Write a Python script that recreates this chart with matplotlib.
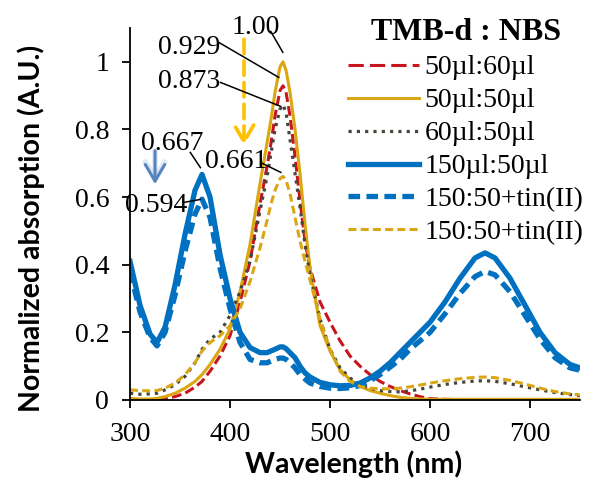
import matplotlib
matplotlib.use('Agg')
import matplotlib.pyplot as plt
from matplotlib.lines import Line2D
from matplotlib.patches import FancyArrowPatch

plt.rcParams['font.family'] = 'Liberation Serif'

# wavelength grid (nm)
wl = [300, 310, 320, 327, 335, 345, 355, 365, 372, 380,
      390, 400, 410, 420, 430, 437, 441, 445, 450, 453,
      456, 460, 465, 470, 475, 480, 490, 500, 510, 520,
      530, 540, 550, 560, 570, 580, 590, 600, 615, 630,
      645, 655, 665, 680, 695, 710, 725, 740, 750]

# normalized absorbance, one list per TMB-d : NBS ratio
r50_60 = [0.000, 0.000, 0.000, 0.002, 0.004, 0.010, 0.020, 0.038, 0.055, 0.085,
          0.13, 0.19, 0.29, 0.41, 0.58, 0.69, 0.76, 0.84, 0.915, 0.929,
          0.91, 0.84, 0.72, 0.59, 0.47, 0.39, 0.29, 0.23, 0.175, 0.13,
          0.10, 0.075, 0.055, 0.04, 0.028, 0.018, 0.01, 0.004, 0.002, 0.001,
          0.001, 0.001, 0.001, 0.001, 0.001, 0.001, 0.001, 0.001, 0.001]
r50_50 = [0.005, 0.003, 0.003, 0.005, 0.010, 0.020, 0.035, 0.055, 0.075, 0.105,
          0.15, 0.21, 0.32, 0.46, 0.64, 0.76, 0.83, 0.91, 0.985, 1.00,
          0.975, 0.91, 0.80, 0.67, 0.52, 0.39, 0.22, 0.145, 0.09, 0.06,
          0.04, 0.028, 0.02, 0.013, 0.008, 0.005, 0.003, 0.002, 0.002, 0.002,
          0.002, 0.002, 0.002, 0.002, 0.002, 0.002, 0.002, 0.002, 0.002]
r60_50 = [0.020, 0.017, 0.018, 0.020, 0.030, 0.045, 0.070, 0.110, 0.150, 0.180,
          0.200, 0.250, 0.320, 0.410, 0.560, 0.660, 0.730, 0.800, 0.860, 0.873,
          0.850, 0.770, 0.670, 0.570, 0.460, 0.370, 0.240, 0.150, 0.095, 0.065,
          0.045, 0.035, 0.028, 0.025, 0.024, 0.027, 0.032, 0.038, 0.046, 0.052,
          0.056, 0.057, 0.055, 0.048, 0.039, 0.030, 0.022, 0.016, 0.013]
r150_50 = [0.41, 0.28, 0.195, 0.17, 0.215, 0.34, 0.49, 0.62, 0.667, 0.60,
           0.43, 0.30, 0.20, 0.155, 0.14, 0.14, 0.145, 0.15, 0.157, 0.157,
           0.152, 0.14, 0.125, 0.10, 0.08, 0.068, 0.052, 0.045, 0.042, 0.043,
           0.05, 0.065, 0.085, 0.11, 0.14, 0.17, 0.20, 0.23, 0.29, 0.36,
           0.42, 0.435, 0.42, 0.36, 0.28, 0.20, 0.14, 0.105, 0.095]
r150_50_tin_b = [0.38, 0.26, 0.185, 0.16, 0.20, 0.31, 0.44, 0.55, 0.594, 0.54,
                 0.39, 0.27, 0.17, 0.12, 0.11, 0.11, 0.115, 0.12, 0.124, 0.124,
                 0.12, 0.11, 0.095, 0.075, 0.062, 0.05, 0.04, 0.035, 0.034, 0.036,
                 0.043, 0.057, 0.075, 0.097, 0.12, 0.15, 0.175, 0.20, 0.255, 0.315,
                 0.365, 0.38, 0.37, 0.32, 0.25, 0.18, 0.125, 0.095, 0.088]
r150_50_tin_y = [0.030, 0.028, 0.027, 0.028, 0.035, 0.050, 0.075, 0.110, 0.145, 0.170,
                 0.190, 0.220, 0.270, 0.350, 0.450, 0.530, 0.580, 0.620, 0.655, 0.661,
                 0.650, 0.610, 0.540, 0.470, 0.410, 0.355, 0.240, 0.150, 0.085, 0.055,
                 0.040, 0.035, 0.033, 0.033, 0.035, 0.039, 0.044, 0.050, 0.057, 0.063,
                 0.067, 0.068, 0.066, 0.058, 0.047, 0.035, 0.025, 0.018, 0.015]

labels = ['50µl:60µl', '50µl:50µl', '60µl:50µl', '150µl:50µl',
          '150:50+tin(II)', '150:50+tin(II)']

RED = '#C8141E'
GOLD = '#DAA712'
GREY = '#45453A'
BLUE = '#0070C0'

styles = [
    dict(color=RED, lw=2.2, dashes=(3.2, 1.4)),
    dict(color=GOLD, lw=2.2, ls='-'),
    dict(color=GREY, lw=2.3, dashes=(1, 1.6)),
    dict(color=BLUE, lw=3.8, ls='-'),
    dict(color=BLUE, lw=3.8, dashes=(2.2, 1.2)),
    dict(color=GOLD, lw=2.2, dashes=(2.6, 1.4)),
]
series = [r50_60, r50_50, r60_50, r150_50, r150_50_tin_b, r150_50_tin_y]

fig = plt.figure(figsize=(6.11, 4.98), dpi=100)
ax = fig.add_axes([0.2128, 0.1968, 0.7365, 0.747])

for ys, st in zip(series, styles):
    ax.plot(wl, ys, **st)

ax.set_xlim(300, 750)
ax.set_ylim(0, 1.1)
ax.set_xticks([300, 400, 500, 600, 700])
ax.set_yticks([0, 0.2, 0.4, 0.6, 0.8, 1.0])
ax.set_yticklabels(['0', '0.2', '0.4', '0.6', '0.8', '1'])
for s in ['top', 'right']:
    ax.spines[s].set_visible(False)
for s in ['left', 'bottom']:
    ax.spines[s].set_linewidth(1.3)
ax.tick_params(direction='out', length=6, width=1.3, labelsize=20)
ax.tick_params(axis='y', pad=9)
ax.tick_params(axis='x', pad=10)

ax.set_xlabel('Wavelength (nm)', family='Lato', weight='bold', fontsize=20.5)
ax.set_ylabel('Normalized absorption (A.U.)', family='Lato', weight='bold', fontsize=20.5)
ax.xaxis.set_label_coords(0.496, -0.135)
ax.yaxis.set_label_coords(-0.19, 0.462)

# peak value labels with leader lines
peak_idx = [1, 0, 2, 3, 5, 4]
text_xy = [(425.6, 1.100), (358.8, 1.041), (358.8, 0.943),
           (341.7, 0.759), (406.5, 0.706), (326.6, 0.574)]
lead_from = [(440.7, 1.090), (388.4, 1.058), (390.5, 0.939),
             (360.3, 0.732), (430.7, 0.702), (353.3, 0.584)]
lead_to = [(452.8, 0.028), (448.7, 0.025), (450.8, -0.005),
           (370.4, 0.020), (450.8, 0.012), (370.4, -0.001)]
for k, (tx, lf, lt) in zip(peak_idx, zip(text_xy, lead_from, lead_to)):
    pk = max(series[k])
    txt = f'{pk:.2f}' if pk >= 1 else f'{pk:.3f}'
    ax.text(tx[0], tx[1], txt, ha='center', va='center', fontsize=20, clip_on=False)
    ax.plot([lf[0], lt[0]], [lf[1], pk + lt[1]], color='black', lw=1.1, clip_on=False)

# arrows showing the drop after tin(II) addition
head = '->,head_length=1.2,head_width=0.7'
glow = FancyArrowPatch((325, 0.745), (325, 0.63), arrowstyle=head,
                       mutation_scale=10, color='#A9C0DE', lw=4, alpha=0.35)
ax.add_patch(glow)
arr_b = FancyArrowPatch((325, 0.745), (325, 0.63), arrowstyle=head,
                        mutation_scale=10, color='#5585C0', lw=2.2)
ax.add_patch(arr_b)
arr_y = FancyArrowPatch((414, 1.075), (414, 0.745), arrowstyle=head,
                        mutation_scale=10, color='#FFC000', lw=2.6, linestyle=(0, (4, 2)))
ax.add_patch(arr_y)

handles = [Line2D([], [], **st) for st in styles]
handles[0].set_dashes((5, 2))
leg = ax.legend(handles, labels, loc='upper left',
                bbox_to_anchor=(348 / 611, 1 - 55 / 498), bbox_transform=fig.transFigure,
                frameon=False, fontsize=20, handlelength=2.55, handletextpad=0.2,
                labelspacing=0.27, borderpad=0, borderaxespad=0)
fig.text(466 / 611, 1 - 32 / 498, 'TMB-d : NBS', ha='center', va='center',
         fontsize=23, weight='bold')

fig.savefig('out.png', dpi=100)
